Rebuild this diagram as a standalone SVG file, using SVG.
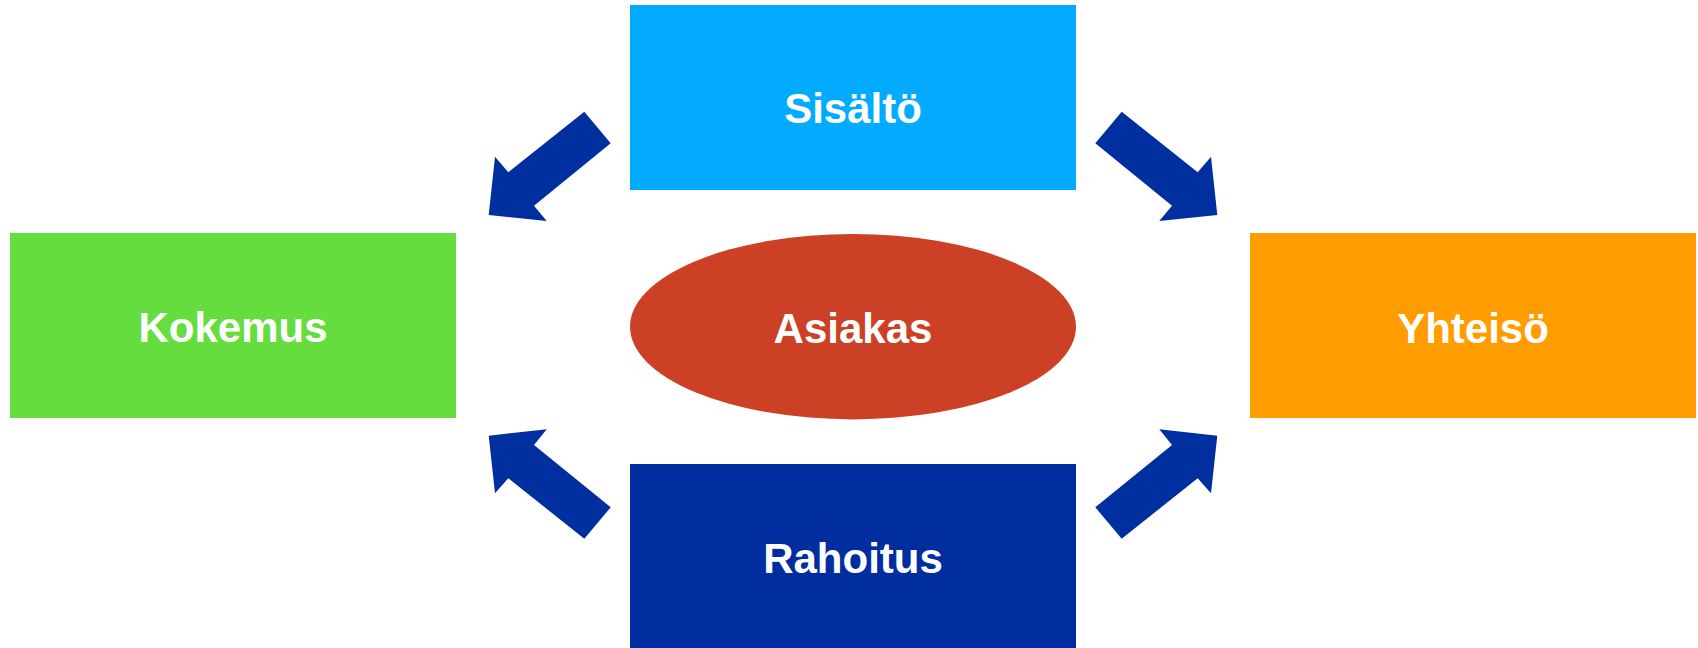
<svg xmlns="http://www.w3.org/2000/svg" width="1698" height="648" viewBox="0 0 1698 648">
<style>
.lbl{font-family:"Liberation Sans",Arial,sans-serif;font-weight:bold;font-size:42px;fill:#ffffff;text-anchor:middle}
.arr{fill:#002FA0}
</style>
<rect width="1698" height="648" fill="#ffffff"/>
<g id="connectors">
<polygon class="arr" points="584.3,111.7 610.7,143.3 534,205.7 546.7,221 488.7,215 495,156.7 508.3,172.3"/>
<polygon class="arr" points="1121.7,111.7 1095.3,143.3 1172,205.7 1159.3,221 1217.3,215 1211,156.7 1197.7,172.3"/>
<polygon class="arr" points="584.3,538.7 610.7,507.3 534,445 546.7,429.3 488.7,435.7 495,493.3 508.3,478.3"/>
<polygon class="arr" points="1121.7,538.7 1095.3,507.3 1172,445 1159.3,429.3 1217.3,435.7 1211,493.3 1197.7,478.3"/>
</g>
<g id="sisalto">
<rect x="630" y="5" width="446" height="185" fill="#02ABFF"/>
<text class="lbl" x="853" y="122.5">Sisältö</text>
</g>
<g id="kokemus">
<rect x="10" y="233" width="446" height="185" fill="#66DD3E"/>
<text class="lbl" x="233" y="341.5">Kokemus</text>
</g>
<g id="asiakas">
<ellipse cx="853" cy="326.7" rx="223" ry="92.7" fill="#CC4125"/>
<text class="lbl" x="853" y="343">Asiakas</text>
</g>
<g id="yhteiso">
<rect x="1250" y="233" width="446" height="185" fill="#FF9C00"/>
<text class="lbl" x="1473" y="342.5">Yhteisö</text>
</g>
<g id="rahoitus">
<rect x="630" y="464" width="446" height="190" fill="#002DA0"/>
<text class="lbl" x="853" y="573">Rahoitus</text>
</g>
</svg>
